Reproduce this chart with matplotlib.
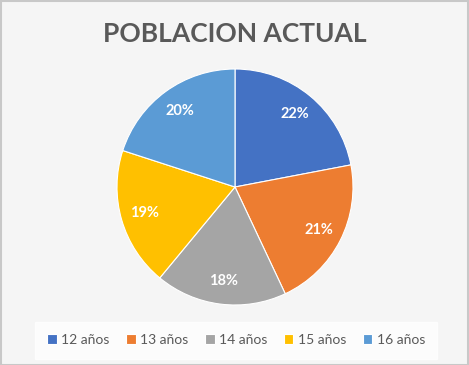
import matplotlib.pyplot as plt
from matplotlib.patches import Rectangle

# datos del grafico
categorias = ['12 años', '13 años', '14 años', '15 años', '16 años']
porcentajes = [22, 21, 18, 19, 20]
colores = ['#4472C4', '#ED7D31', '#A5A5A5', '#FFC000', '#5B9BD5']

plt.rcParams['font.family'] = ['Lato', 'DejaVu Sans']

W, H = 469, 365
fig = plt.figure(figsize=(W / 100, H / 100), dpi=100)
fig.patch.set_facecolor('#f5f5f5')

# borde exterior
fig.add_artist(Rectangle((0.5 / W, 0.5 / H), 1 - 1.5 / W, 1 - 1.5 / H,
                         transform=fig.transFigure, fill=False,
                         edgecolor='#c8c8c8', linewidth=1.5))

# titulo
fig.text(235 / W, 1 - 34 / H, 'POBLACION ACTUAL', ha='center', va='center',
         fontsize=19, fontweight='bold', color='#595959')

# pastel
cx, cy, r = 235, 187, 118
ax = fig.add_axes([(cx - r) / W, (H - cy - r) / H, 2 * r / W, 2 * r / H])
wedges, texts, autotexts = ax.pie(porcentajes, colors=colores, startangle=90,
                                  counterclock=False, autopct='%1.0f%%',
                                  pctdistance=0.8,
                                  wedgeprops=dict(edgecolor='white', linewidth=0.8))
for t in autotexts:
    t.set_color('white')
    t.set_fontweight('bold')
    t.set_fontsize(10.5)
ax.set_xlim(-1, 1)
ax.set_ylim(-1, 1)
ax.set_aspect('equal')

# leyenda
leg = fig.legend(wedges, categorias, loc='center', bbox_to_anchor=(236 / W, 1 - 340 / H),
                 ncol=5, frameon=True, fontsize=10, handlelength=0.7, handleheight=0.7,
                 handletextpad=0.3, columnspacing=1.2, borderpad=0.9, borderaxespad=0)
leg.get_frame().set_facecolor('white')
leg.get_frame().set_edgecolor('white')
leg.get_frame().set_boxstyle('square', pad=0)
for t in leg.get_texts():
    t.set_color('#595959')

fig.savefig('out.png', dpi=100, facecolor=fig.get_facecolor())
